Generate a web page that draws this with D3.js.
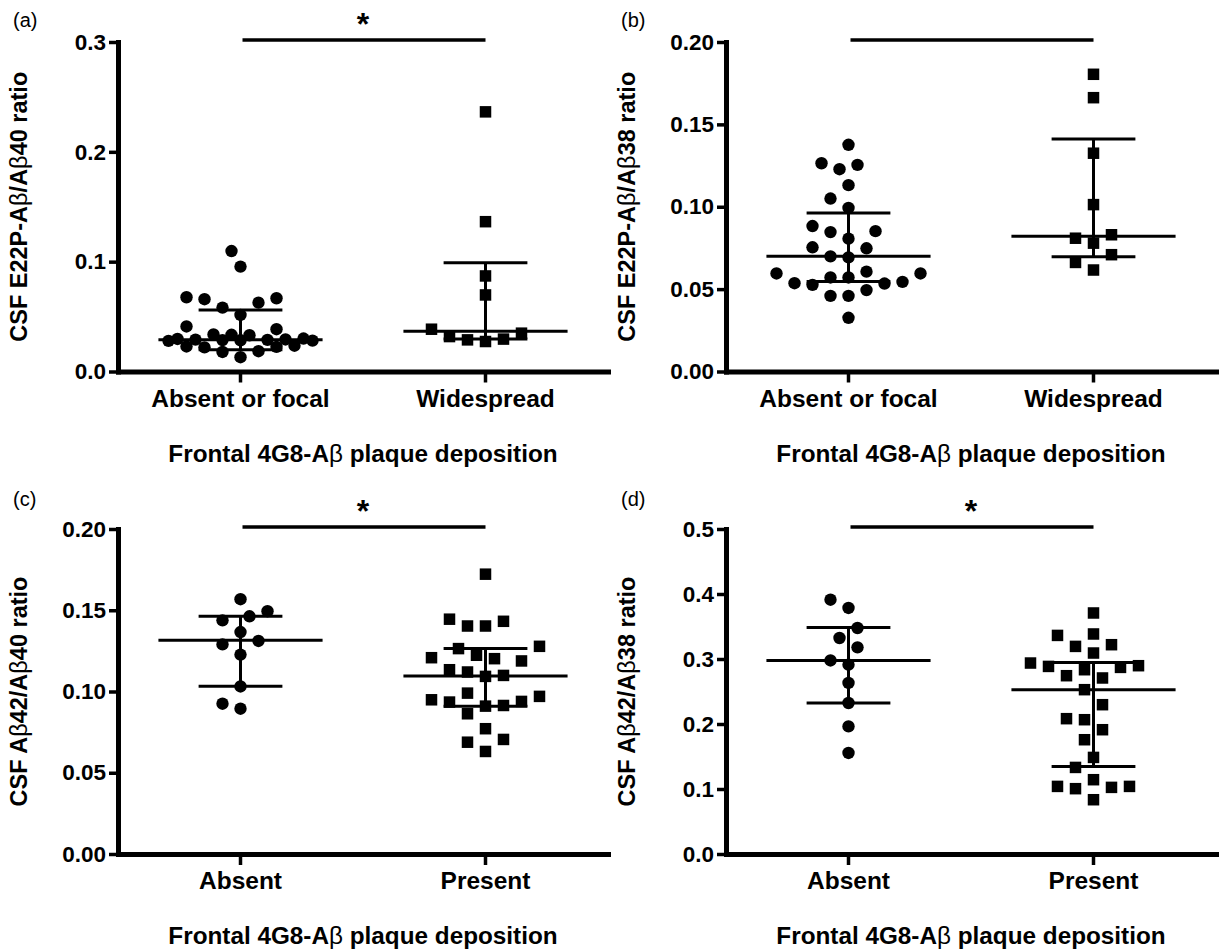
<!DOCTYPE html>
<html>
<head>
<meta charset="utf-8">
<style>
body { margin: 0; background: #fff; }
</style>
</head>
<body>
<svg width="1219" height="950"></svg>
<script src="https://cdn.jsdelivr.net/npm/d3@7"></script>
<script>
// values
var panelLabels = ['(a)', '(b)', '(c)', '(d)'];
var yTitles = ['CSF E22P-Aβ/Aβ40 ratio', 'CSF E22P-Aβ/Aβ38 ratio', 'CSF Aβ42/Aβ40 ratio', 'CSF Aβ42/Aβ38 ratio'];
var groupsTop = ['Absent or focal', 'Widespread'];
var groupsBottom = ['Absent', 'Present'];
var xTitle = 'Frontal 4G8-Aβ plaque deposition';
var yTicksA = [0, 0.1, 0.2, 0.3];
var yTicksB = [0, 0.05, 0.10, 0.15, 0.20];
var yTicksC = [0, 0.05, 0.10, 0.15, 0.20];
var yTicksD = [0, 0.1, 0.2, 0.3, 0.4, 0.5];
var sigStars = ['*', '', '*', '*'];

var aAbsent = [0.1097, 0.0955, 0.0676, 0.0667, 0.0658, 0.0627, 0.0582, 0.0515, 0.0410, 0.0385, 0.0338, 0.0334, 0.0330,
  0.0300, 0.0296, 0.0292, 0.0290, 0.0288, 0.0286, 0.0284, 0.0281, 0.0279, 0.0235, 0.0228, 0.0224, 0.0220, 0.0185, 0.0178, 0.0130];
var aWidespread = [0.2364, 0.1364, 0.0870, 0.0697, 0.0385, 0.0349, 0.0318, 0.0288, 0.0295, 0.0273];
var bAbsent = [0.1376, 0.1264, 0.1228, 0.1254, 0.1131, 0.1050, 0.0993, 0.0846, 0.0883, 0.0852, 0.0806, 0.0754, 0.0748, 0.0699,
  0.0693, 0.0606, 0.0595, 0.0595, 0.0571, 0.0534, 0.0526, 0.0536, 0.0544, 0.0571, 0.0459, 0.0459, 0.0494, 0.0326];
var bWidespread = [0.1804, 0.1662, 0.1325, 0.1013, 0.0809, 0.0830, 0.0779, 0.0709, 0.0662, 0.0616];
var cAbsent = [0.1568, 0.1494, 0.1438, 0.1463, 0.1366, 0.1311, 0.1290, 0.1227, 0.1031, 0.0894, 0.0925];
var cPresent = [0.1722, 0.1445, 0.1403, 0.1403, 0.1432, 0.1278, 0.1264, 0.1223, 0.1202, 0.1188, 0.1208, 0.1134, 0.1099, 0.1093,
  0.1120, 0.0990, 0.0949, 0.0935, 0.0910, 0.0914, 0.0939, 0.0970, 0.0863, 0.0771, 0.0705, 0.0688, 0.0631];
var dAbsent = [0.3912, 0.3785, 0.3477, 0.3323, 0.3179, 0.2978, 0.2912, 0.2631, 0.2323, 0.1963, 0.1554];
var dPresent = [0.3708, 0.3385, 0.3363, 0.3220, 0.3194, 0.3092, 0.2897, 0.2871, 0.2835, 0.2886, 0.2938, 0.2743, 0.2708, 0.2528,
  0.2297, 0.2066, 0.2082, 0.1912, 0.1758, 0.1486, 0.1332, 0.1040, 0.1025, 0.1143, 0.1005, 0.1040, 0.0835];

// median and interquartile range per group
var aMedian = [0.0288, 0.0367], aQ1 = [0.0197, 0.0297], aQ3 = [0.0560, 0.0991];
var bMedian = [0.0699, 0.0821], bQ1 = [0.0546, 0.0697], bQ3 = [0.0962, 0.1411];
var cMedian = [0.1315, 0.1095], cQ1 = [0.1033, 0.0910], cQ3 = [0.1463, 0.1264];
var dMedian = [0.2978, 0.2528], dQ1 = [0.2323, 0.1348], dQ3 = [0.3486, 0.2948];

var panels = [
  {groups: groupsTop, ticks: yTicksA, fmt: '.1f', series: [aAbsent, aWidespread], med: aMedian, q1: aQ1, q3: aQ3},
  {groups: groupsTop, ticks: yTicksB, fmt: '.2f', series: [bAbsent, bWidespread], med: bMedian, q1: bQ1, q3: bQ3},
  {groups: groupsBottom, ticks: yTicksC, fmt: '.2f', series: [cAbsent, cPresent], med: cMedian, q1: cQ1, q3: cQ3},
  {groups: groupsBottom, ticks: yTicksD, fmt: '.1f', series: [dAbsent, dPresent], med: dMedian, q1: dQ1, q3: dQ3}
];

// layout
var cols = [{x0: 118, x1: 608}, {x0: 726, x1: 1216}];
var rows = [{top: 42, bottom: 371.5, label: 27}, {top: 529, bottom: 854, label: 506}];
var FONT = '"Liberation Sans", Arial, sans-serif';
var STEP = 9, MIN_D = 18;

var svg = d3.select('svg');

// split text so that the beta is drawn in regular weight
function richText(sel, str) {
  str.split('β').forEach(function (part, i) {
    if (i > 0) sel.append('tspan').attr('font-weight', 'normal').text('β');
    if (part) sel.append('tspan').text(part);
  });
}

// swarm: each point takes the nearest free slot; if the column is full,
// the slot with the least overlap is used
function swarm(values, y, maxOff) {
  var pts = values.map(function (v) { return {v: v, y: y(v)}; })
    .sort(function (a, b) { return a.v - b.v; });
  var placed = [];
  pts.forEach(function (p) {
    var best = 0, bestD = -1;
    for (var k = 0; ; k++) {
      var off = k === 0 ? 0 : (k % 2 ? -1 : 1) * Math.ceil(k / 2) * STEP;
      if (Math.abs(off) > maxOff) break;
      var dmin = Infinity;
      placed.forEach(function (q) {
        var dx = off - q.off, dy = p.y - q.y;
        dmin = Math.min(dmin, Math.sqrt(dx * dx + dy * dy));
      });
      if (dmin >= MIN_D) { best = off; bestD = dmin; break; }
      if (dmin > bestD) { best = off; bestD = dmin; }
    }
    p.off = best;
    placed.push(p);
  });
  return placed;
}

panels.forEach(function (p, i) {
  var col = cols[i % 2], row = rows[Math.floor(i / 2)];
  var g = svg.append('g');

  var x = d3.scaleBand().domain(p.groups).range([col.x0, col.x1]).padding(0);
  var y = d3.scaleLinear().domain([0, p.ticks[p.ticks.length - 1]]).range([row.bottom, row.top]);
  var bw = x.bandwidth();
  var cx = function (k) { return x(p.groups[k]) + bw / 2; };

  // y axis
  var ya = g.append('g')
    .attr('transform', 'translate(' + col.x0 + ',0)')
    .call(d3.axisLeft(y).tickValues(p.ticks).tickFormat(d3.format(p.fmt))
      .tickSize(9).tickSizeOuter(0).tickPadding(3));
  // x axis
  var xa = g.append('g')
    .attr('transform', 'translate(0,' + row.bottom + ')')
    .call(d3.axisBottom(x).tickSize(11).tickSizeOuter(0).tickPadding(7));

  [ya, xa].forEach(function (a) {
    a.attr('font-family', FONT).attr('font-weight', 'bold');
    a.select('.domain').attr('stroke', '#000').attr('stroke-width', 5).attr('stroke-linecap', 'square');
    a.selectAll('.tick line').attr('stroke', '#000').attr('stroke-width', 3.5);
    a.selectAll('.tick text').attr('fill', '#000');
  });
  ya.attr('font-size', 22.5);
  xa.attr('font-size', 24.5);

  // y title
  var ty = (row.top + row.bottom) / 2, tx = col.x0 - 91;
  var yt = g.append('text')
    .attr('x', tx).attr('y', ty)
    .attr('transform', 'rotate(-90,' + tx + ',' + ty + ')')
    .attr('text-anchor', 'middle')
    .attr('font-family', FONT).attr('font-weight', 'bold').attr('font-size', 23.5);
  richText(yt, yTitles[i]);

  // x title
  var xt = g.append('text')
    .attr('x', (col.x0 + col.x1) / 2).attr('y', row.bottom + 90)
    .attr('text-anchor', 'middle')
    .attr('font-family', FONT).attr('font-weight', 'bold').attr('font-size', 24.3);
  richText(xt, xTitle);

  // panel label
  g.append('text')
    .attr('x', col.x0 - 105).attr('y', row.label)
    .attr('font-family', FONT).attr('font-size', 20)
    .text(panelLabels[i]);

  // significance bar
  var barY = row.top - 2;
  g.append('line')
    .attr('x1', cx(0) + 2).attr('x2', cx(1))
    .attr('y1', barY).attr('y2', barY)
    .attr('stroke', '#000').attr('stroke-width', 3.5);
  if (sigStars[i]) {
    g.append('text')
      .attr('x', (cx(0) + cx(1)) / 2).attr('y', barY - 5)
      .attr('text-anchor', 'middle')
      .attr('font-family', FONT).attr('font-weight', 'bold').attr('font-size', 32)
      .text(sigStars[i]);
  }

  // points
  p.series.forEach(function (vals, k) {
    var pts = swarm(vals, y, bw * 0.3);
    var c = cx(k);
    if (k === 0) {
      g.selectAll('circle.g' + k).data(pts).enter().append('circle')
        .attr('cx', function (d) { return c + d.off; })
        .attr('cy', function (d) { return d.y; })
        .attr('r', 6.2).attr('fill', '#000');
    } else {
      var s = 11.5;
      g.selectAll('rect.g' + k).data(pts).enter().append('rect')
        .attr('x', function (d) { return c + d.off - s / 2; })
        .attr('y', function (d) { return d.y - s / 2; })
        .attr('width', s).attr('height', s).attr('fill', '#000');
    }

    // median with interquartile range
    var eb = g.append('g').attr('stroke', '#000').attr('stroke-width', 3);
    var wm = bw * 0.335, wq = bw * 0.171;
    eb.append('line').attr('x1', c - wm).attr('x2', c + wm).attr('y1', y(p.med[k])).attr('y2', y(p.med[k]));
    eb.append('line').attr('x1', c - wq).attr('x2', c + wq).attr('y1', y(p.q3[k])).attr('y2', y(p.q3[k]));
    eb.append('line').attr('x1', c - wq).attr('x2', c + wq).attr('y1', y(p.q1[k])).attr('y2', y(p.q1[k]));
    eb.append('line').attr('x1', c).attr('x2', c).attr('y1', y(p.q1[k])).attr('y2', y(p.q3[k]));
  });
});
</script>
</body>
</html>
